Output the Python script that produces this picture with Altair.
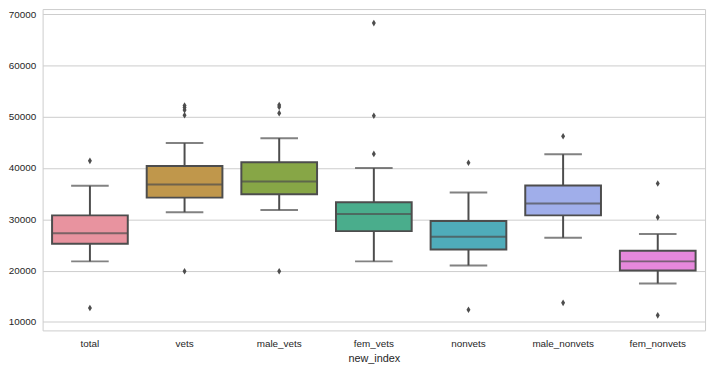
import altair as alt
import pandas as pd

categories = ["total", "vets", "male_vets", "fem_vets", "nonvets", "male_nonvets", "fem_nonvets"]
whisker_lo = [21800, 31400, 31800, 21800, 21000, 26400, 17500]
q1 = [25250, 34230, 34870, 27700, 24100, 30770, 20000]
median = [27300, 36800, 37370, 31020, 26600, 33080, 21800]
q3 = [30770, 40380, 41150, 33330, 29670, 36600, 23850]
whisker_hi = [36540, 44870, 45830, 40000, 35250, 42690, 27120]
colors = ["#e8939f", "#c0974b", "#87a646", "#4aad8c", "#4facba", "#a0aeea", "#e688dc"]

outlier_cat = ["total", "total",
               "vets", "vets", "vets", "vets", "vets",
               "male_vets", "male_vets", "male_vets", "male_vets",
               "fem_vets", "fem_vets", "fem_vets",
               "nonvets", "nonvets",
               "male_nonvets", "male_nonvets",
               "fem_nonvets", "fem_nonvets", "fem_nonvets"]
outlier_val = [41400, 12700,
               52200, 51800, 51300, 50300, 19870,
               52300, 51900, 50700, 19870,
               68270, 50190, 42750,
               41020, 12370,
               46200, 13720,
               36980, 30380, 11280]

stats = pd.DataFrame({
    "cat": categories, "lo": whisker_lo, "q1": q1, "med": median,
    "q3": q3, "hi": whisker_hi, "color": colors,
})
outliers = pd.DataFrame({"cat": outlier_cat, "val": outlier_val})

edge = "#4d4d4d"
x = alt.X("cat:N", sort=categories, title="new_index",
          scale=alt.Scale(paddingInner=0, paddingOuter=0))
yscale = alt.Scale(domain=[8340, 71000], nice=False, zero=False)

base = alt.Chart(stats)

whisk_low = base.mark_rule(color=edge, strokeWidth=2).encode(
    x=x, y=alt.Y("lo:Q", scale=yscale), y2="q1:Q")
whisk_high = base.mark_rule(color=edge, strokeWidth=2).encode(
    x=x, y=alt.Y("q3:Q", scale=yscale), y2="hi:Q")
cap_lo = base.mark_tick(color=edge, thickness=2, size=38).encode(
    x=x, y=alt.Y("lo:Q", scale=yscale))
cap_hi = base.mark_tick(color=edge, thickness=2, size=38).encode(
    x=x, y=alt.Y("hi:Q", scale=yscale))
box = base.mark_bar(width=alt.RelativeBandSize(0.8), stroke=edge, strokeWidth=2).encode(
    x=x,
    y=alt.Y("q1:Q", scale=yscale,
            axis=alt.Axis(title=None, values=[10000, 20000, 30000, 40000, 50000, 60000, 70000],
                          format="d", grid=True)),
    y2="q3:Q",
    color=alt.Color("color:N", scale=None),
)
med = base.mark_tick(color=edge, thickness=2, size=76).encode(
    x=x, y=alt.Y("med:Q", scale=yscale))
pts = alt.Chart(outliers).mark_point(
    shape="M0,-1L0.6,0L0,1L-0.6,0Z", filled=True, color=edge, opacity=1, size=45
).encode(x=x, y=alt.Y("val:Q", scale=yscale))

chart = alt.layer(whisk_low, whisk_high, cap_lo, cap_hi, box, med, pts).properties(
    width=670, height=325,
    autosize=alt.AutoSizeParams(type="none"),
    padding={"left": 35, "top": -1, "right": 6, "bottom": 40},
).configure_view(
    stroke="#cccccc", strokeWidth=1
).configure_axis(
    labelFont="Liberation Sans", titleFont="Liberation Sans",
    labelFontSize=10, titleFontSize=11, labelColor="#262626", titleColor="#262626",
    titleFontWeight="normal", ticks=False, domain=False,
    gridColor="#cccccc", gridWidth=1,
).configure_axisX(
    labelAngle=0, labelPadding=8, titlePadding=4, grid=False
).configure_axisY(
    labelPadding=7
)

chart.save("out.html", embed_options={"renderer": "svg", "actions": False})
